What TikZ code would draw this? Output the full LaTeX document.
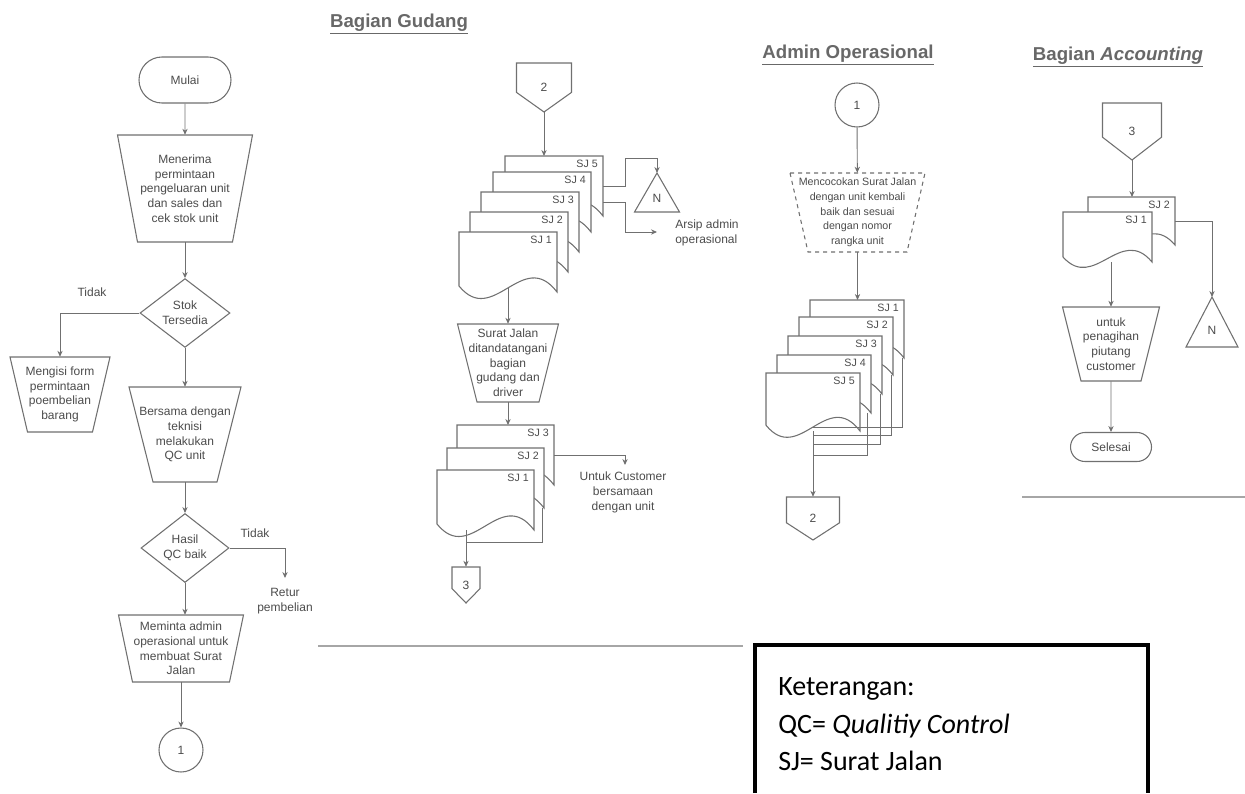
\documentclass[tikz,border=0pt]{standalone}
\usepackage{fontspec}
\setmainfont{Liberation Sans}
\newfontfamily\legendfont{Carlito}
\usetikzlibrary{shapes.geometric,shapes.misc,arrows.meta,positioning}

\definecolor{lincol}{HTML}{707070}
\definecolor{txtcol}{HTML}{4C4C4C}
\definecolor{headcol}{HTML}{686868}

\tikzset{
  shapeline/.style={draw=lincol, line width=0.8pt, fill=white},
  flow/.style={draw=lincol, line width=0.7pt, -{Stealth[length=4.5pt,width=4pt]}},
  link/.style={draw=lincol, line width=0.7pt},
  sep/.style={draw=black!35, line width=1.2pt},
  txt/.style={text=txtcol, font=\fontsize{9}{11}\selectfont, align=center, inner sep=0pt},
  ghost/.style={inner sep=0pt, outer sep=0pt},
  terminal/.style={shapeline, rounded rectangle, txt},
  decision/.style={shapeline, diamond, txt},
  conn/.style={shapeline, circle, txt, minimum size=33pt},
  head/.style={text=headcol, font=\fontsize{14}{16}\selectfont\bfseries},
  note/.style={font=\legendfont\fontsize{21}{24}\selectfont, anchor=base west, inner sep=0pt},
}

% manual operation: [style], name, centre x, top y, top width, bottom width, height, text
\newcommand{\manop}[8][]{%
  \draw[shapeline,#1] ({#3-#5/2},#4) -- ({#3+#5/2},#4) -- ({#3+#6/2},{#4+#7}) -- ({#3-#6/2},{#4+#7}) -- cycle;
  \node[txt,#1,draw=none,minimum width=#6*0.75pt, minimum height=#7*0.75pt] (#2) at (#3,{#4+#7/2}) {#8};}

% document: name, left x, top y, width, height, label
\newcommand{\sjdoc}[6]{%
  \draw[shapeline] (#2,#3) -- ({#2+#4},#3) -- ({#2+#4},{#3+#5})
    .. controls ({#2+0.65*#4},{#3+0.25*#5}) and ({#2+0.35*#4},{#3+1.6*#5}) .. (#2,{#3+0.9*#5}) -- cycle;
  \node[ghost, minimum width=#4*0.75pt, minimum height=#5*0.75pt, anchor=north west] (#1) at (#2,#3) {};
  \node[txt, font=\fontsize{8}{9}\selectfont, anchor=north east] (#1t) at ({#2+#4-5},{#3+4}) {#6};}

% off-page connector: name, centre x, top y, width, height, label
\newcommand{\offpg}[6]{%
  \draw[shapeline] ({#2-#4/2},#3) -- ({#2+#4/2},#3) -- ({#2+#4/2},{#3+0.6*#5}) -- (#2,{#3+#5}) -- ({#2-#4/2},{#3+0.6*#5}) -- cycle;
  \node[txt, minimum width=#4*0.75pt, minimum height=#5*0.75pt] (#1) at (#2,{#3+#5/2}) {#6};}

% archive triangle: name, apex x, apex y, width, height
\newcommand{\arsip}[5]{%
  \draw[shapeline] (#2,#3) -- ({#2+#4/2},{#3+#5}) -- ({#2-#4/2},{#3+#5}) -- cycle;
  \node[ghost, minimum width=#4*0.75pt, minimum height=#5*0.75pt] (#1) at (#2,{#3+#5/2}) {};
  \node[txt] (#1t) at (#2,{#3+0.66*#5}) {N};}

\begin{document}
\begin{tikzpicture}[x=0.75pt,y=-0.75pt]
  \useasboundingbox (0,0) rectangle (1245,793);

  % lane headings
  \node[head] (hgud) at (399,24) {\underline{Bagian Gudang}};
  \node[head] (hadm) at (848,55) {\underline{Admin Operasional}};
  \node[head] (hacc) at (1118,57) {\underline{Bagian \textit{Accounting}}};

  % first lane
  \node[terminal, minimum width=92*0.75pt, minimum height=46*0.75pt] (mulai) at (185,80) {Mulai};
  \manop{terima}{185}{135}{135}{95}{107}{Menerima\\permintaan\\pengeluaran unit\\dan sales dan\\cek stok unit}
  \node[decision, minimum width=90*0.75pt, minimum height=65*0.75pt] (stok) at (185,313) {Stok\\Tersedia};
  \manop{isi}{60}{357}{100}{65}{75}{Mengisi form\\permintaan\\poembelian\\barang}
  \manop{qc}{185}{387}{112}{64}{95}{Bersama dengan\\teknisi\\melakukan\\QC unit}
  \node[decision, minimum width=88*0.75pt, minimum height=63*0.75pt] (hasil) at (185,548) {Hasil\\QC baik};
  \manop{minta}{181}{615}{125}{97}{67}{Meminta admin\\operasional untuk\\membuat Surat\\Jalan}
  \node[conn] (c1) at (181,750) {1};
  \coordinate (retur) at (285,578);

  \draw[flow] (mulai) -- (terima);
  \draw[flow] (terima) -- (stok);
  \draw[flow] (stok.west) -| (isi.north);
  \node[txt] (tidak1) at (92,292) {Tidak};
  \draw[flow] (stok) -- (qc);
  \draw[flow] (qc) -- (hasil);
  \draw[flow] (hasil.east) -| (retur);
  \node[txt] (tidak2) at (255,533) {Tidak};
  \node[txt, anchor=north] (returt) at (285,588) {Retur\\pembelian};
  \draw[flow] (hasil.south) -- (hasil.south |- minta.north);
  \draw[flow] (minta.south -| c1) -- (c1);

  % gudang
  \offpg{k2}{544}{63}{55}{49}{2}
  \sjdoc{g5}{505}{156}{98}{60}{SJ 5}
  \sjdoc{g4}{493}{172}{98}{60}{SJ 4}
  \sjdoc{g3}{481}{192}{98}{60}{SJ 3}
  \sjdoc{g2}{470}{212}{98}{60}{SJ 2}
  \sjdoc{g1}{459}{232}{98}{60}{SJ 1}
  \arsip{n1}{657}{173}{45}{39}
  \coordinate (bend1) at (625,158);
  \coordinate (bend2) at (625,232);
  \coordinate (arsipend) at (657,232);
  \draw[flow] (k2) -- (k2 |- g5.north);
  \draw[flow] (g5.east) -| (bend1) -| (n1.north);
  \draw[flow] ([yshift=-12pt]g5.east) -| (bend2) -- (arsipend);
  \node[txt, align=left, anchor=west] (arsipt) at (675,233) {Arsip admin\\operasional};

  \manop{ttd}{508}{324}{101}{62}{78}{Surat Jalan\\ditandatangani\\bagian\\gudang dan\\driver}
  \draw[flow] ([yshift=3pt]ttd.north |- g1.south) -- (ttd.north);

  \sjdoc{h3}{457}{425}{97}{60}{SJ 3}
  \sjdoc{h2}{447}{448}{97}{60}{SJ 2}
  \sjdoc{h1}{437}{470}{97}{60}{SJ 1}
  \offpg{k3}{466}{567}{28}{36}{3}
  \coordinate (cust) at (625,465);
  \coordinate (m3) at (466,542);
  \draw[flow] (ttd.south) -- (ttd.south |- h3.north);
  \draw[flow] (h3.east) -| (cust);
  \node[txt, anchor=north] (custt) at (623,472) {Untuk Customer\\bersamaan\\dengan unit};
  \draw[flow] (k3 |- h1.south) -- (k3.north);
  \draw[link] ([xshift=-1.5pt]h2.south east) |- (m3);

  % admin operasional
  \node[conn] (a1) at (857,105) {1};
  \manop[dashed, font=\fontsize{8}{11}\selectfont]{cocok}{857.5}{173}{135}{99}{79}{Mencocokan Surat Jalan\\dengan unit kembali\\baik dan sesuai\\dengan nomor\\rangka unit}
  \draw[flow] (a1) -- (cocok);
  \sjdoc{s1}{810}{300}{94}{58}{SJ 1}
  \sjdoc{s2}{799}{317}{94}{58}{SJ 2}
  \sjdoc{s3}{788}{336}{94}{58}{SJ 3}
  \sjdoc{s4}{777}{355}{94}{58}{SJ 4}
  \sjdoc{s5}{766}{373}{94}{58}{SJ 5}
  \draw[flow] (cocok) -- (cocok |- s1.north);
  \offpg{k2b}{813}{497}{53}{43}{2}
  \coordinate (ma) at (813,427);
  \coordinate (mb) at (813,435);
  \coordinate (mc) at (813,444);
  \coordinate (md) at (813,455);
  \draw[link] ([xshift=-1.5pt]s1.south east) |- (ma);
  \draw[link] ([xshift=-1.5pt]s2.south east) |- (mb);
  \draw[link] ([xshift=-1.5pt]s3.south east) |- (mc);
  \draw[link] ([xshift=-2.5pt]s4.south east) |- (md);
  \draw[flow] (k2b |- s5.south) -- (k2b.north);

  % accounting
  \offpg{k3b}{1132}{103}{59}{57}{3}
  \sjdoc{t2}{1088}{197}{87}{48}{SJ 2}
  \sjdoc{t1}{1063}{212}{89}{50}{SJ 1}
  \arsip{n2}{1212}{297}{52}{50}
  \manop{tagih}{1111}{307}{97}{60}{74}{untuk\\penagihan\\piutang\\customer}
  \node[terminal, minimum width=81*0.75pt, minimum height=29*0.75pt] (selesai) at (1111,447) {Selesai};
  \draw[flow] (k3b) -- (k3b |- t2.north);
  \draw[flow] (t2.east) -| (n2.north);
  \draw[flow] (tagih.north |- t1.south) -- (tagih.north);
  \draw[flow] (tagih) -- (selesai);

  % lane ends
  \draw[sep] (318,646) -- (743,646);
  \draw[sep] (1022,497) -- (1245,497);

  % keterangan
  \draw[line width=3pt] (755,793) -- (755,645) -- (1148,645) -- (1148,793);
  \node[note] (ket) at (778,695) {Keterangan:};
  \node[note] (ketqc) at (778,733) {QC= \textit{Qualitiy Control}};
  \node[note] (ketsj) at (778,770) {SJ= Surat Jalan};
\end{tikzpicture}
\end{document}
